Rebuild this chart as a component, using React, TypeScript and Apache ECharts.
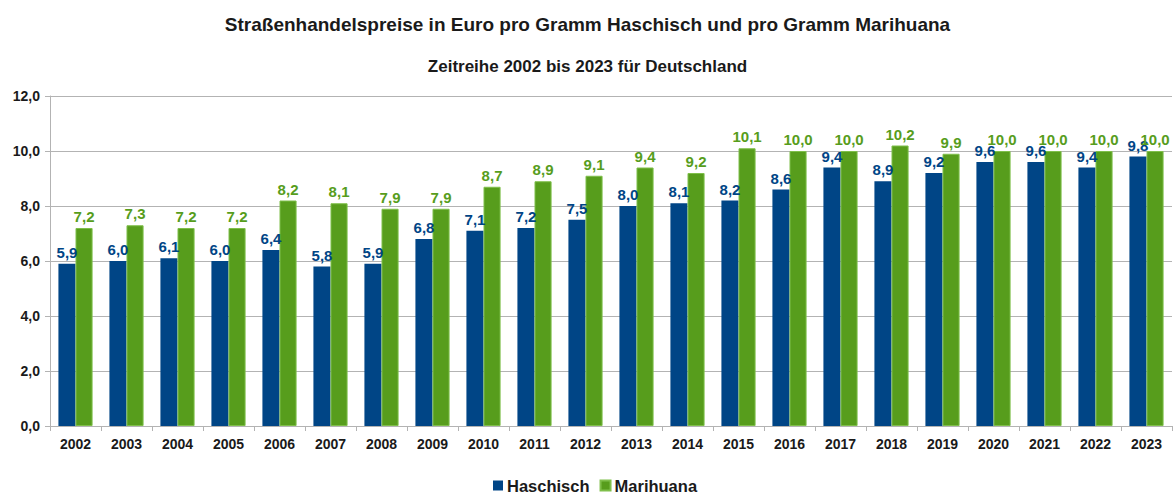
import React, { useEffect, useRef } from "react";
import * as echarts from "echarts";

const years = ["2002","2003","2004","2005","2006","2007","2008","2009","2010","2011","2012","2013","2014","2015","2016","2017","2018","2019","2020","2021","2022","2023"];
const haschisch = [5.9, 6.0, 6.1, 6.0, 6.4, 5.8, 5.9, 6.8, 7.1, 7.2, 7.5, 8.0, 8.1, 8.2, 8.6, 9.4, 8.9, 9.2, 9.6, 9.6, 9.4, 9.8];
const marihuana = [7.2, 7.3, 7.2, 7.2, 8.2, 8.1, 7.9, 7.9, 8.7, 8.9, 9.1, 9.4, 9.2, 10.1, 10.0, 10.0, 10.2, 9.9, 10.0, 10.0, 10.0, 10.0];

const FONT = "'Liberation Sans', Arial, sans-serif";
const fmt = (v: number) => v.toFixed(1).replace(".", ",");

export default function App() {
  const ref = useRef<HTMLDivElement>(null);
  useEffect(() => {
    const chart = echarts.init(ref.current!, null, { renderer: "svg" });
    chart.setOption({
      animation: false,
      backgroundColor: "#ffffff",
      textStyle: { fontFamily: FONT },
      title: [
        { text: "Straßenhandelspreise in Euro pro Gramm Haschisch und pro Gramm Marihuana", left: "center", top: 10, textStyle: { fontFamily: FONT, fontSize: 19, fontWeight: "bold", color: "#1a1a1a" } },
        { text: "Zeitreihe 2002 bis 2023 für Deutschland", left: "center", top: 53, textStyle: { fontFamily: FONT, fontSize: 17, fontWeight: "bold", color: "#1a1a1a" } },
      ],
      legend: {
        bottom: -4,
        left: 488,
        itemWidth: 10,
        itemHeight: 10,
        itemGap: 10,
        icon: "rect",
        textStyle: { fontFamily: FONT, fontSize: 16.5, fontWeight: "bold", color: "#1a1a1a", padding: [0, 0, 0, -1] },
        data: ["Haschisch", "Marihuana"],
      },
      grid: { left: 50, right: 3, top: 96, bottom: 69 },
      xAxis: {
        type: "category",
        data: years,
        axisLine: { lineStyle: { color: "#b3b3b3" } },
        axisTick: { show: true, length: 5, lineStyle: { color: "#b3b3b3" } },
        axisLabel: { fontFamily: FONT, fontSize: 14, fontWeight: "bold", color: "#1a1a1a", margin: 11 },
      },
      yAxis: {
        type: "value",
        min: 0,
        max: 12,
        interval: 2,
        axisLine: { show: true, lineStyle: { color: "#b3b3b3" } },
        axisTick: { show: true, length: 5, lineStyle: { color: "#b3b3b3" } },
        splitLine: { lineStyle: { color: "#b3b3b3" } },
        axisLabel: { fontFamily: FONT, fontSize: 14, fontWeight: "bold", color: "#1a1a1a", margin: 10, formatter: (v: number) => fmt(v) },
      },
      series: [
        {
          name: "Haschisch",
          type: "bar",
          data: haschisch,
          barGap: "0%",
          barCategoryGap: "33%",
          itemStyle: { color: "#004586" },
          label: { show: true, position: "top", distance: 4, formatter: (p: any) => fmt(p.value), fontFamily: FONT, fontSize: 15, fontWeight: "bold", color: "#004586" },
        },
        {
          name: "Marihuana",
          type: "bar",
          data: marihuana,
          barGap: "0%",
          barCategoryGap: "33%",
          itemStyle: { color: "#579d1c", borderColor: "#7fbf4a", borderWidth: 1 },
          label: { show: true, position: "top", distance: 4, formatter: (p: any) => fmt(p.value), fontFamily: FONT, fontSize: 15, fontWeight: "bold", color: "#579d1c" },
        },
      ],
    });
    return () => chart.dispose();
  }, []);
  return <div ref={ref} style={{ position: "fixed", left: 0, top: 0, width: 1175, height: 495 }} />;
}
